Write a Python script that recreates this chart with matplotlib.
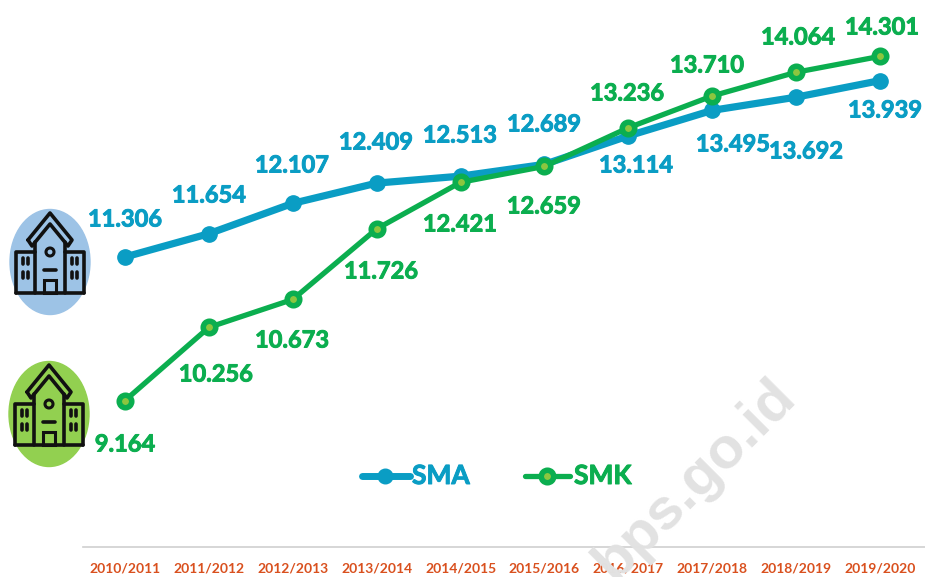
import matplotlib
matplotlib.use("Agg")
import matplotlib.pyplot as plt
import matplotlib.patheffects as pe
from matplotlib.patches import Ellipse, Rectangle, Circle

# Data
years = ["2010/2011", "2011/2012", "2012/2013", "2013/2014", "2014/2015",
         "2015/2016", "2016/2017", "2017/2018", "2018/2019", "2019/2020"]
sma = [11306, 11654, 12107, 12409, 12513, 12689, 13114, 13495, 13692, 13939]
smk = [9164, 10256, 10673, 11726, 12421, 12659, 13236, 13710, 14064, 14301]
sma_labels = ["11.306", "11.654", "12.107", "12.409", "12.513",
              "12.689", "13.114", "13.495", "13.692", "13.939"]
smk_labels = ["9.164", "10.256", "10.673", "11.726", "12.421",
              "12.659", "13.236", "13.710", "14.064", "14.301"]

# label centres in pixels
sma_pos = [(125, 219), (209, 195), (292, 165), (376, 142), (460, 135),
           (544, 124), (636, 165), (733, 144), (806, 151), (885, 110)]
smk_pos = [(125, 444), (216, 374), (292, 340), (381, 271), (460, 224),
           (544, 206), (627, 93), (707, 65), (798, 37), (882, 27)]

BLUE = "#0A9DC4"
GREEN = "#0BAE4F"
FONT = "Lato"

W, H = 925, 577
fig = plt.figure(figsize=(W / 100, H / 100), dpi=100)

# main axes
ax = fig.add_axes([83 / W, (H - 547) / H, (W - 83) / W, 547 / H])
ax.set_xlim(-0.5, 9.535)
ax.set_ylim(6978, 15142)
ax.plot(range(10), sma, color=BLUE, lw=5.2, marker="o", ms=11, solid_capstyle="round", zorder=3)
ax.plot(range(10), smk, color=GREEN, lw=3.8, marker="o", ms=9, mfc="#8CC63F", mec=GREEN, mew=4, zorder=4)
for s in ["top", "right", "left"]:
    ax.spines[s].set_visible(False)
ax.spines["bottom"].set_color("#cfcfcf")
ax.spines["bottom"].set_linewidth(1.2)
ax.set_yticks([])
ax.set_xticks(range(10))
ax.set_xticklabels(years, fontsize=10, color="#D9501E", fontweight="bold", family=FONT)
ax.tick_params(axis="x", length=0, pad=11)

# overlay in pixel coordinates
ov = fig.add_axes([0, 0, 1, 1], facecolor="none")
ov.set_xlim(0, W)
ov.set_ylim(H, 0)
ov.axis("off")

# watermark
ov.text(768, 369, "bps.go.id", rotation=45, rotation_mode="anchor", ha="right", va="top",
        fontsize=42, fontweight="bold", color="#e2e2e2", family="Liberation Sans", zorder=0)

# thicker strokes for the value labels
thick = [pe.withStroke(linewidth=0.7, foreground=BLUE)]
thick2 = [pe.withStroke(linewidth=0.7, foreground=GREEN)]

for lab, (x, y) in zip(sma_labels, sma_pos):
    ov.text(x, y, lab, color=BLUE, fontsize=17, fontweight="bold", family=FONT, ha="center", va="center", path_effects=thick)
for lab, (x, y) in zip(smk_labels, smk_pos):
    ov.text(x, y, lab, color=GREEN, fontsize=17, fontweight="bold", family=FONT, ha="center", va="center", path_effects=thick2)

# legend
ov.plot([362, 410], [476, 476], color=BLUE, lw=5, solid_capstyle="round")
ov.plot([385], [476], "o", color=BLUE, ms=10.5)
ov.text(412, 476, "SMA", color=BLUE, fontsize=19, fontweight="bold", family=FONT, va="center", path_effects=thick)
ov.plot([525, 570], [476, 476], color=GREEN, lw=3.8, solid_capstyle="round")
ov.plot([547], [476], "o", mfc="#8CC63F", mec=GREEN, mew=4, ms=9)
ov.text(574, 476, "SMK", color=GREEN, fontsize=19, fontweight="bold", family=FONT, va="center", path_effects=thick2)


def school(cx, cy, bg):
    ov.add_patch(Ellipse((cx, cy), 80, 105, color=bg, zorder=5))
    k = dict(color="#111111", lw=2.6, zorder=6, solid_joinstyle="round", solid_capstyle="round")
    # wings
    ov.plot([cx - 34, cx - 34, cx - 15], [cy + 31, cy - 10, cy - 10], **k)
    ov.plot([cx + 34, cx + 34, cx + 15], [cy + 31, cy - 10, cy - 10], **k)
    ov.plot([cx - 34, cx + 34], [cy + 31, cy + 31], **k)
    # tower and roofs
    ov.plot([cx - 15, cx - 15], [cy + 31, cy - 20], **k)
    ov.plot([cx + 15, cx + 15], [cy + 31, cy - 20], **k)
    ov.plot([cx - 22, cx, cx + 22, cx + 18, cx, cx - 18, cx - 22],
            [cy - 22, cy - 49, cy - 22, cy - 16, cy - 38, cy - 16, cy - 22], **k)
    ov.add_patch(Circle((cx, cy - 10), 4, fill=False, ec="#111111", lw=2.2, zorder=6))
    ov.plot([cx - 6, cx + 6], [cy + 8, cy + 8], **k)
    ov.add_patch(Rectangle((cx - 6, cy + 18), 12, 13, fill=False, ec="#111111", lw=2.2, zorder=6))
    # windows
    for dx in (-27, -22, 22, 27):
        for dy in (-1, 13):
            ov.plot([cx + dx, cx + dx], [cy + dy - 3, cy + dy + 3], **k)


school(50, 262, "#9DC3E6")
school(49, 414, "#92D050")

fig.savefig("out.png", dpi=100)
